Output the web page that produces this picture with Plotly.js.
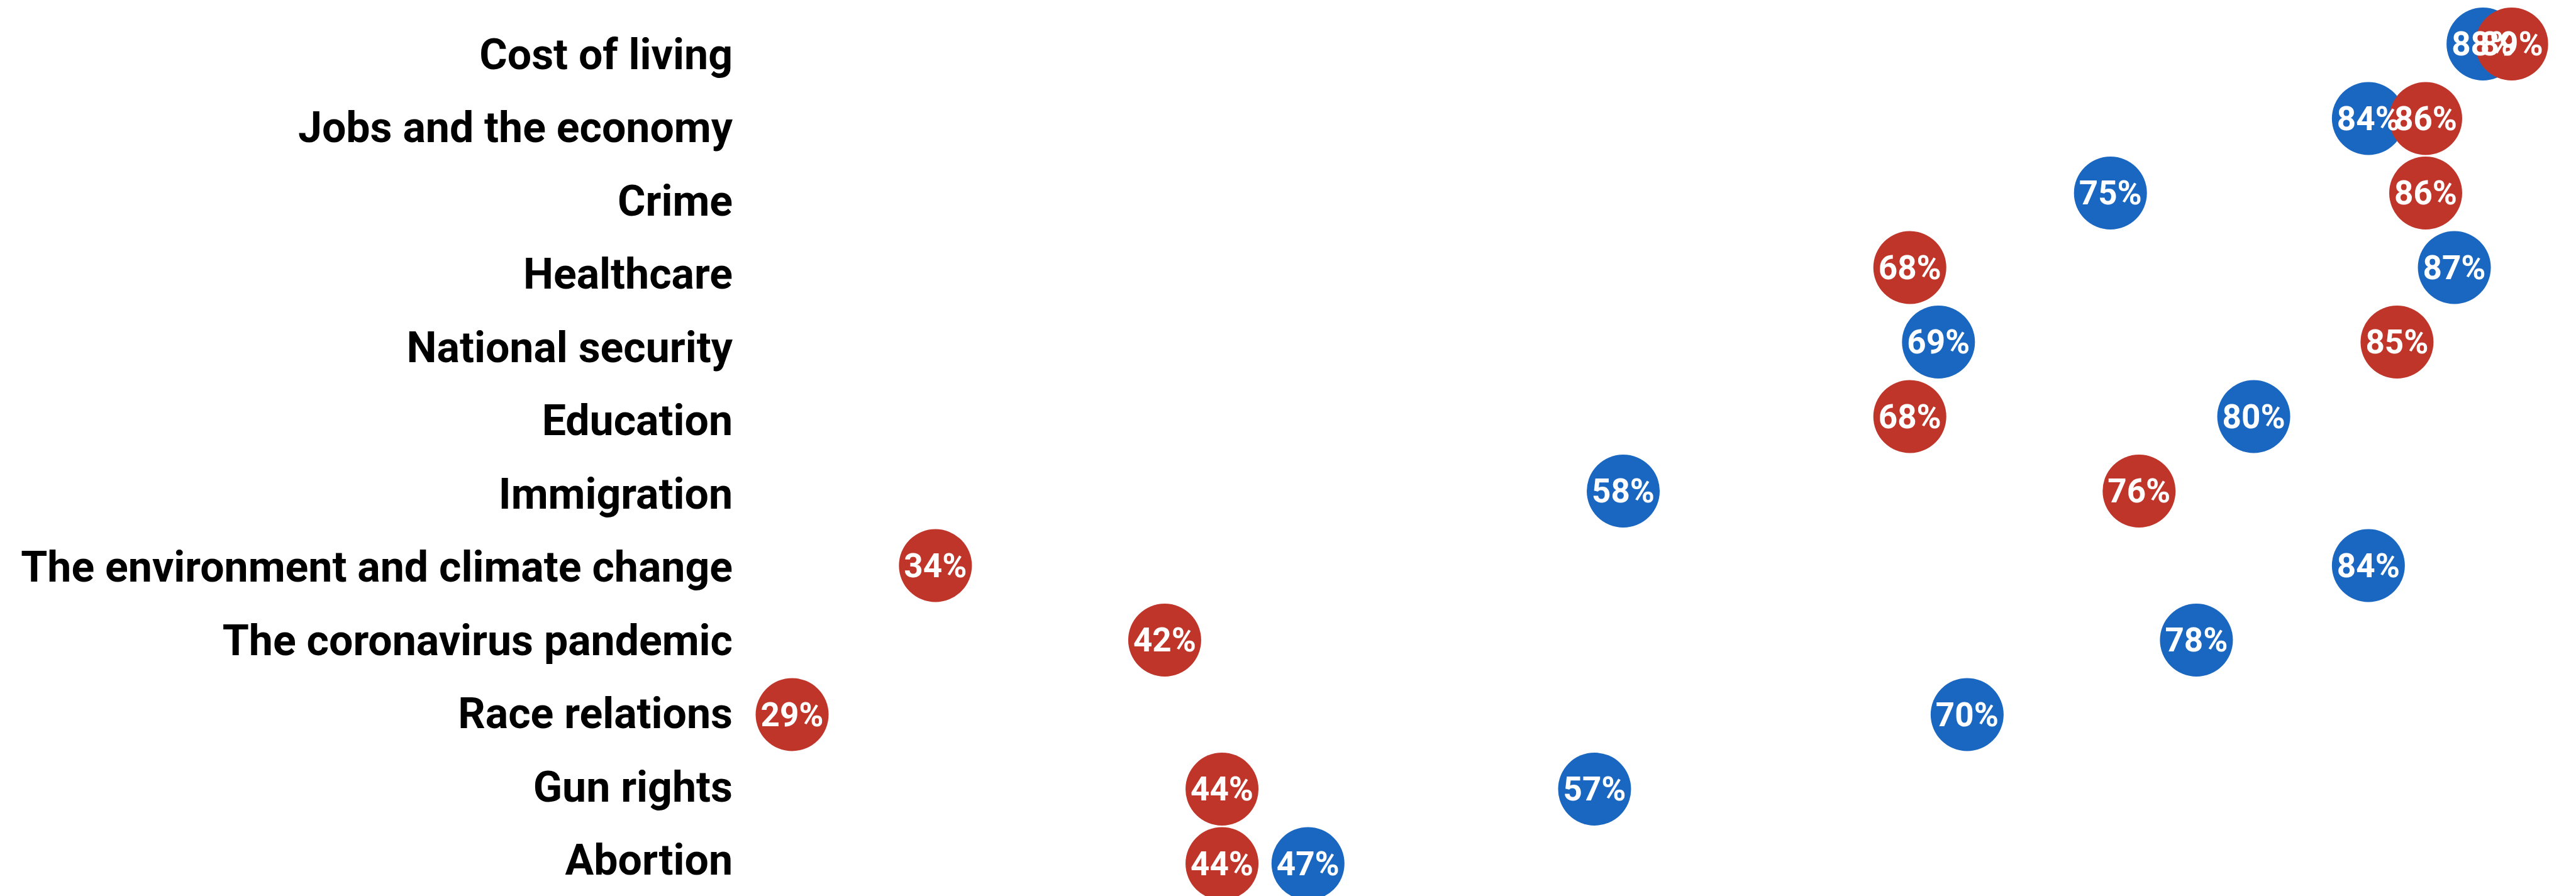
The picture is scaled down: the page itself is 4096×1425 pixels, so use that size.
<!DOCTYPE html>
<html>
<head>
<meta charset="utf-8">
<script src="https://cdn.plot.ly/plotly-3.0.1.min.js"></script>
<style>
  html, body { margin: 0; padding: 0; background: #ffffff; }
  #chart { width: 4096px; height: 1425px; }
</style>
</head>
<body>
<div id="chart"></div>
<script>
const categories = [
  "Cost of living",
  "Jobs and the economy",
  "Crime",
  "Healthcare",
  "National security",
  "Education",
  "Immigration",
  "The environment and climate change",
  "The coronavirus pandemic",
  "Race relations",
  "Gun rights",
  "Abortion"
];
const blueValues = [88, 84, 75, 87, 69, 80, 58, 84, 78, 70, 57, 47];
const redValues  = [89, 86, 86, 68, 85, 68, 76, 34, 42, 29, 44, 44];

const BLUE = "#1967C1";
const RED = "#C0352A";
const MARKER_SIZE = 116;
const LABEL_FONT = "Roboto, 'Noto Sans', sans-serif";

function pct(v) { return v + "%"; }

function markerTrace(vals, color, name) {
  return {
    type: "scatter", mode: "markers", name: name,
    x: vals, y: categories, yaxis: "y",
    marker: { size: MARKER_SIZE, color: color, line: { width: 0 } },
    cliponaxis: false, hoverinfo: "skip", showlegend: false
  };
}
function textTrace(vals, name) {
  return {
    type: "scatter", mode: "text", name: name,
    x: vals, y: categories, yaxis: "y3",
    text: vals.map(pct), textposition: "middle center",
    textfont: { family: LABEL_FONT, size: 53, color: "#ffffff", weight: 700 },
    cliponaxis: false, hoverinfo: "skip", showlegend: false
  };
}

const data = [
  markerTrace(blueValues, BLUE, "Blue"),
  markerTrace(redValues, RED, "Red"),
  textTrace(blueValues, "Blue labels"),
  textTrace(redValues, "Red labels"),
  // invisible carrier so the label axis registers its categories
  {
    type: "scatter", mode: "markers", x: blueValues, y: categories, yaxis: "y2",
    marker: { size: 1, opacity: 0 }, hoverinfo: "skip", showlegend: false
  }
];

const hiddenCat = {
  type: "category",
  categoryorder: "array", categoryarray: categories,
  showgrid: false, zeroline: false, showline: false, ticks: "",
  showticklabels: false
};

const layout = {
  width: 4096, height: 1425,
  margin: { l: 1180, r: 0, t: 0, b: 0, pad: 0 },
  paper_bgcolor: "#ffffff", plot_bgcolor: "#ffffff",
  showlegend: false,
  xaxis: {
    range: [27.255, 91.245],
    showgrid: false, zeroline: false, showline: false,
    showticklabels: false, ticks: ""
  },
  yaxis: Object.assign({}, hiddenCat, { range: [11.435, -0.5907] }),
  yaxis3: Object.assign({}, hiddenCat, { overlaying: "y", range: [11.393, -0.633] }),
  yaxis2: {
    type: "category", overlaying: "y", side: "left",
    categoryorder: "array", categoryarray: categories,
    range: [11.496, -0.736],
    showgrid: false, zeroline: false, showline: false, ticks: "",
    ticklabelstandoff: 14,
    tickfont: { family: LABEL_FONT, size: 68, color: "#000000", weight: 700 }
  }
};

Plotly.newPlot("chart", data, layout, { displayModeBar: false, staticPlot: true });
</script>
</body>
</html>
